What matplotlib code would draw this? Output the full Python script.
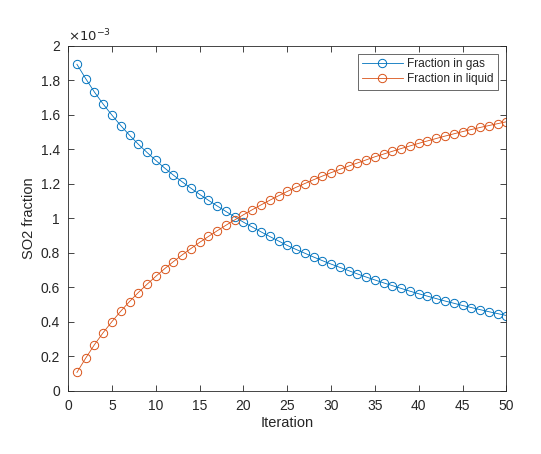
import matplotlib.pyplot as plt
import numpy as np

# values, in units of 1e-3
iteration = list(range(1, 51))
gas = [1.893, 1.810, 1.732, 1.662, 1.598, 1.538, 1.482, 1.430, 1.382, 1.336,
       1.292, 1.251, 1.212, 1.175, 1.139, 1.105, 1.072, 1.040, 1.009, 0.978,
       0.950, 0.922, 0.895, 0.869, 0.843, 0.820, 0.798, 0.776, 0.755, 0.735,
       0.716, 0.697, 0.678, 0.660, 0.643, 0.626, 0.610, 0.594, 0.578, 0.563,
       0.549, 0.535, 0.521, 0.508, 0.495, 0.483, 0.471, 0.459, 0.448, 0.437]
liquid = [0.107, 0.190, 0.268, 0.338, 0.402, 0.462, 0.518, 0.570, 0.618, 0.664,
          0.708, 0.749, 0.788, 0.825, 0.861, 0.895, 0.928, 0.960, 0.991, 1.021,
          1.050, 1.078, 1.105, 1.131, 1.156, 1.180, 1.202, 1.224, 1.245, 1.265,
          1.284, 1.303, 1.321, 1.339, 1.357, 1.373, 1.389, 1.405, 1.420, 1.435,
          1.449, 1.463, 1.477, 1.490, 1.503, 1.515, 1.527, 1.538, 1.549, 1.560]
xticks = list(range(0, 51, 5))
yticks = [0, 0.2, 0.4, 0.6, 0.8, 1, 1.2, 1.4, 1.6, 1.8, 2]

plt.rcParams['font.family'] = ['Liberation Sans', 'DejaVu Sans']
txt = '#262626'

fig = plt.figure(figsize=(5.41, 4.54), dpi=100)
ax = fig.add_axes([0.126, 0.139, 0.810, 0.760])

blue = (0.0, 0.447, 0.741)
orange = (0.85, 0.325, 0.098)
ax.plot(iteration, np.array(gas) * 1e-3, '-o', color=blue, lw=0.6,
        markersize=6, markerfacecolor='none', markeredgewidth=0.7,
        label='Fraction in gas')
ax.plot(iteration, np.array(liquid) * 1e-3, '-o', color=orange, lw=0.6,
        markersize=6, markerfacecolor='none', markeredgewidth=0.7,
        label='Fraction in liquid')

ax.set_xlim(0, 50)
ax.set_ylim(0, 2e-3)
ax.set_xticks(xticks)
ax.set_yticks([v * 1e-3 for v in yticks])
ax.set_yticklabels(['%g' % v for v in yticks])
ax.tick_params(direction='in', top=True, right=True, length=4, width=0.6,
               labelsize=10, colors=txt, pad=6)
for s in ax.spines.values():
    s.set_color(txt)
    s.set_linewidth(0.6)

ax.text(0.0, 1.005, r'$\times10^{-3}$', transform=ax.transAxes, fontsize=9.5,
        color=txt, ha='left', va='bottom')
ax.set_xlabel('Iteration', fontsize=10.5, color=txt, labelpad=2)
ax.set_ylabel('SO2 fraction', fontsize=10.5, color=txt, labelpad=3)

leg = ax.legend(loc='upper right', fontsize=8.6, frameon=True, fancybox=False,
                edgecolor=txt, handlelength=3.4, borderpad=0.35,
                labelspacing=0.25, handletextpad=0.4, borderaxespad=0.7)
leg.get_frame().set_linewidth(0.6)
for t in leg.get_texts():
    t.set_color(txt)

fig.savefig('out.png', dpi=100, facecolor='white')
